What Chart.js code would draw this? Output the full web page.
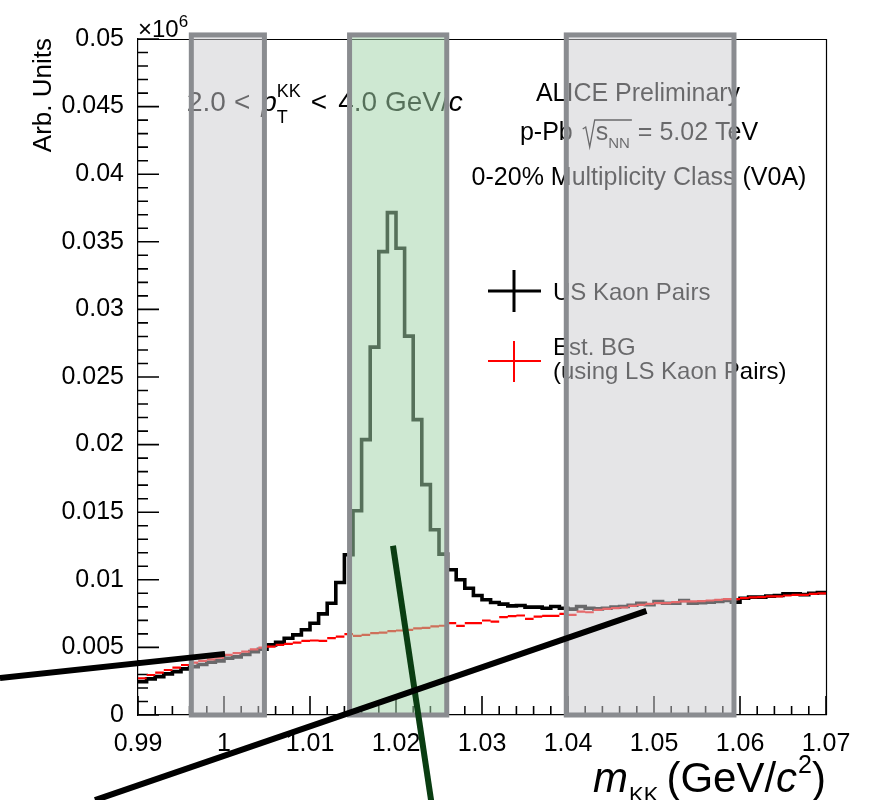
<!DOCTYPE html>
<html>
<head>
<meta charset="utf-8">
<title>m_KK invariant mass distribution</title>
<script src="https://cdn.jsdelivr.net/npm/chart.js@4.4.1/dist/chart.umd.min.js"></script>
<style>
html,body{margin:0;padding:0;background:#ffffff;}
#box{position:relative;width:875px;height:800px;overflow:hidden;}
canvas{display:block;}
</style>
</head>
<body>
<div id="box"><canvas id="chart" width="875" height="800"></canvas></div>
<script>
// ---------------- data (y in units of 10^6) ----------------
const binEdges = [
  0.990,0.991,0.992,0.993,0.994,0.995,0.996,0.997,0.998,0.999,
  1.000,1.001,1.002,1.003,1.004,1.005,1.006,1.007,1.008,1.009,
  1.010,1.011,1.012,1.013,1.014,1.015,1.016,1.017,1.018,1.019,
  1.020,1.021,1.022,1.023,1.024,1.025,1.026,1.027,1.028,1.029,
  1.030,1.031,1.032,1.033,1.034,1.035,1.036,1.037,1.038,1.039,
  1.040,1.041,1.042,1.043,1.044,1.045,1.046,1.047,1.048,1.049,
  1.050,1.051,1.052,1.053,1.054,1.055,1.056,1.057,1.058,1.059,
  1.060,1.061,1.062,1.063,1.064,1.065,1.066,1.067,1.068,1.069,
  1.070
];
const usKaonPairs = [
  0.00247,0.00267,0.00284,0.00304,0.00321,0.00341,0.00358,0.00374,0.00390,0.00400,
  0.00420,0.00430,0.00448,0.00469,0.00486,0.00519,0.00538,0.00568,0.00593,0.00630,
  0.00679,0.00748,0.00827,0.00980,0.01185,0.01511,0.02037,0.02721,0.03427,0.03716,
  0.03452,0.02802,0.02185,0.01704,0.01370,0.01190,0.01074,0.01000,0.00938,0.00884,
  0.00852,0.00832,0.00820,0.00807,0.00810,0.00798,0.00798,0.00790,0.00802,0.00790,
  0.00783,0.00802,0.00790,0.00785,0.00790,0.00798,0.00802,0.00812,0.00827,0.00815,
  0.00840,0.00827,0.00827,0.00847,0.00827,0.00830,0.00835,0.00840,0.00847,0.00835,
  0.00864,0.00872,0.00872,0.00879,0.00884,0.00896,0.00896,0.00890,0.00900,0.00905
];
const estBG = [
  0.00272,0.00296,0.00314,0.00333,0.00350,0.00370,0.00388,0.00400,0.00412,0.00425,
  0.00444,0.00457,0.00469,0.00486,0.00499,0.00506,0.00519,0.00526,0.00536,0.00548,
  0.00551,0.00548,0.00568,0.00580,0.00598,0.00585,0.00593,0.00605,0.00610,0.00620,
  0.00625,0.00630,0.00640,0.00645,0.00655,0.00660,0.00679,0.00659,0.00679,0.00679,
  0.00699,0.00690,0.00724,0.00731,0.00736,0.00711,0.00728,0.00733,0.00733,0.00748,
  0.00741,0.00765,0.00760,0.00778,0.00785,0.00790,0.00795,0.00807,0.00815,0.00822,
  0.00827,0.00827,0.00835,0.00840,0.00840,0.00843,0.00847,0.00852,0.00857,0.00857,
  0.00864,0.00870,0.00872,0.00877,0.00877,0.00884,0.00889,0.00889,0.00896,0.00900
];
const xTickValues = [0.99,1.00,1.01,1.02,1.03,1.04,1.05,1.06,1.07];
const xTickLabels = ["0.99","1","1.01","1.02","1.03","1.04","1.05","1.06","1.07"];
const yTickValues = [0,0.005,0.01,0.015,0.02,0.025,0.03,0.035,0.04,0.045,0.05];
const yTickLabels = ["0","0.005","0.01","0.015","0.02","0.025","0.03","0.035","0.04","0.045","0.05"];
const sidebandLeft  = [0.9962, 1.0047];
const peakWindow    = [1.0146, 1.0259];
const sidebandRight = [1.0398, 1.0593];
const bandTop = 0.0503;
// hand-drawn pointer strokes (data coordinates of their ends)
const pointerA = [[0.97395, 0.00274], [1.00012, 0.00452]];
const pointerB = [[0.98500, -0.00630], [1.04912, 0.00770]];
const pointerC = [[1.01965, 0.01252], [1.02410, -0.00640]];
const legendLabels = ["US Kaon Pairs", "Est. BG", "(using LS Kaon Pairs)"];
const infoLines = ["ALICE Preliminary", "0-20% Multiplicity Class (V0A)"];

// ---------------- helpers ----------------
const FAM = '"Liberation Sans", Arial, Helvetica, sans-serif';
function fnt(size, style) { return (style ? style + ' ' : '') + size + 'px ' + FAM; }

function histLine(edges, vals) {
  const p = vals.map((v, i) => ({x: edges[i], y: v}));
  p.push({x: edges[vals.length], y: vals[vals.length - 1]});
  return p;
}
function binSegments(edges, vals) {
  const p = [];
  vals.forEach((v, i) => {
    p.push({x: edges[i], y: v});
    p.push({x: edges[i + 1], y: v});
    p.push({x: edges[i + 1], y: null});
  });
  return p;
}
function pts(p) { return p.map(q => ({x: q[0], y: q[1]})); }

// draw a sequence of text runs (rich text)
function drawRuns(ctx, runs, x0, y0, align) {
  let x = 0, hold = 0;
  const place = [];
  runs.forEach(r => {
    ctx.font = fnt(r.size, r.style);
    const w = ctx.measureText(r.t).width;
    x += (r.dx || 0);
    place.push(x);
    if (r.hold) { hold = Math.max(hold, w); }
    else { x += Math.max(w, hold); hold = 0; }
  });
  const total = x;
  let sx = x0;
  if (align === 'right') sx = x0 - total;
  else if (align === 'center') sx = x0 - total / 2;
  ctx.textAlign = 'left';
  ctx.textBaseline = 'alphabetic';
  runs.forEach((r, i) => {
    ctx.font = fnt(r.size, r.style);
    ctx.fillStyle = r.color || '#000';
    ctx.fillText(r.t, sx + place[i], y0 + (r.dy || 0));
  });
  return {start: sx, width: total};
}

function drawTextsAndTicks(chart) {
  const ctx = chart.ctx;
  const ca = chart.chartArea;
  const xs = chart.scales.x, ys = chart.scales.y;
  ctx.save();
  // frame (top + right)
  ctx.strokeStyle = '#000000';
  ctx.lineWidth = 1.2;
  ctx.beginPath();
  ctx.moveTo(ca.left, Math.round(ca.top) + 0.5);
  ctx.lineTo(Math.round(ca.right) + 0.5, Math.round(ca.top) + 0.5);
  ctx.lineTo(Math.round(ca.right) + 0.5, ca.bottom);
  ctx.stroke();
  // inward ticks, y axis: major each 0.005, minor each 0.001
  ctx.strokeStyle = '#000000';
  ctx.lineWidth = 1.6;
  ctx.lineCap = 'butt';
  ctx.beginPath();
  for (let k = 0; k <= 50; k++) {
    const py = ys.getPixelForValue(k * 0.001);
    const len = (k % 5 === 0) ? 21 : 10;
    ctx.moveTo(ca.left, py);
    ctx.lineTo(ca.left + len, py);
  }
  ctx.stroke();
  // x axis: major each 0.01, minor each 0.002
  ctx.beginPath();
  for (let k = 0; k <= 40; k++) {
    const px = xs.getPixelForValue(0.99 + k * 0.002);
    const len = (k % 5 === 0) ? 19 : 9;
    ctx.moveTo(px, ca.bottom);
    ctx.lineTo(px, ca.bottom - len);
  }
  ctx.stroke();

  // x10^6
  drawRuns(ctx, [{t: '\u00d710', size: 24}, {t: '6', size: 17, dy: -10}], ca.left, 37, 'left');

  // y title
  ctx.save();
  ctx.translate(51, 38);
  ctx.rotate(-Math.PI / 2);
  ctx.font = fnt(26);
  ctx.fillStyle = '#000';
  ctx.textAlign = 'right';
  ctx.textBaseline = 'alphabetic';
  ctx.fillText('Arb. Units', 0, 0);
  ctx.restore();

  // x title
  drawRuns(ctx, [
    {t: 'm', size: 42, style: 'italic'},
    {t: 'KK', size: 22, dy: 10, dx: 1},
    {t: '(GeV/', size: 42, dx: 8},
    {t: 'c', size: 42, style: 'italic'},
    {t: '2', size: 25, dy: -19, dx: 1},
    {t: ')', size: 42}
  ], ca.right, 792, 'right');

  // pT range
  drawRuns(ctx, [
    {t: '2.0', size: 28},
    {t: '<', size: 28, dx: 8},
    {t: 'p', size: 28, style: 'italic', dx: 11},
    {t: 'KK', size: 18, dy: -14, hold: true, dx: 0},
    {t: 'T', size: 18, dy: 12},
    {t: '<', size: 28, dx: 10},
    {t: '4.0 GeV/', size: 28, dx: 11},
    {t: 'c', size: 28, style: 'italic'}
  ], 187, 111, 'left');

  // info texts
  drawRuns(ctx, [{t: infoLines[0], size: 25}], 638, 101, 'center');
  {
    ctx.font = fnt(25);
    const wA = ctx.measureText('p-Pb').width;
    const wS = ctx.measureText('s').width;
    const wE = ctx.measureText('= 5.02 TeV').width;
    ctx.font = fnt(15);
    const wN = ctx.measureText('NN').width;
    const gap1 = 10, rad = 13, gap2 = 8;
    const total = wA + gap1 + rad + wS + wN + gap2 + wE;
    let x = 639 - total / 2;
    const by = 140;
    ctx.fillStyle = '#000';
    ctx.textAlign = 'left'; ctx.textBaseline = 'alphabetic';
    ctx.font = fnt(25); ctx.fillText('p-Pb', x, by);
    x += wA + gap1;
    ctx.strokeStyle = '#000'; ctx.lineWidth = 1.3;
    ctx.beginPath();
    ctx.moveTo(x, by - 11); ctx.lineTo(x + 3, by - 13);
    ctx.lineTo(x + 7, by + 7);
    ctx.lineTo(x + 12, by - 20);
    ctx.lineTo(x + rad + wS + wN + 2, by - 20);
    ctx.stroke();
    x += rad;
    ctx.font = fnt(25); ctx.fillText('s', x, by);
    x += wS;
    ctx.font = fnt(15); ctx.fillText('NN', x, by + 8);
    x += wN + gap2;
    ctx.font = fnt(25); ctx.fillText('= 5.02 TeV', x, by);
  }
  drawRuns(ctx, [{t: infoLines[1], size: 25}], 639, 185, 'center');

  // legend
  ctx.strokeStyle = '#000'; ctx.lineWidth = 3;
  ctx.beginPath();
  ctx.moveTo(488, 291); ctx.lineTo(541, 291);
  ctx.moveTo(514, 270); ctx.lineTo(514, 312);
  ctx.stroke();
  ctx.strokeStyle = '#ff0000'; ctx.lineWidth = 2;
  ctx.beginPath();
  ctx.moveTo(488, 361); ctx.lineTo(541, 361);
  ctx.moveTo(514, 341); ctx.lineTo(514, 382);
  ctx.stroke();
  drawRuns(ctx, [{t: legendLabels[0], size: 24}], 553, 300, 'left');
  drawRuns(ctx, [{t: legendLabels[1], size: 24}], 553, 355, 'left');
  drawRuns(ctx, [{t: legendLabels[2], size: 24}], 553, 379, 'left');
  ctx.restore();
}

function drawBands(chart) {
  const ctx = chart.ctx;
  const xs = chart.scales.x, ys = chart.scales.y;
  const bands = [
    {r: sidebandLeft,  fill: 'rgba(204,205,208,0.515)'},
    {r: peakWindow,    fill: 'rgba(162,211,170,0.53)'},
    {r: sidebandRight, fill: 'rgba(204,205,208,0.515)'}
  ];
  ctx.save();
  bands.forEach(b => {
    const x0 = xs.getPixelForValue(b.r[0]);
    const x1 = xs.getPixelForValue(b.r[1]);
    const y0 = ys.getPixelForValue(bandTop);
    const y1 = ys.getPixelForValue(0);
    ctx.fillStyle = b.fill;
    ctx.fillRect(x0, y0, x1 - x0, y1 - y0);
    ctx.strokeStyle = '#8a8c90';
    ctx.lineWidth = 5;
    ctx.strokeRect(x0, y0, x1 - x0, y1 - y0);
  });
  ctx.restore();
}

const rootStyle = {
  id: 'rootStyle',
  beforeDatasetsDraw(chart) {
    chart.$bandsDone = false;
    drawTextsAndTicks(chart);
  },
  beforeDatasetDraw(chart, args) {
    const ds = chart.data.datasets[args.index];
    if (ds.pointer && !chart.$bandsDone) {
      drawBands(chart);
      chart.$bandsDone = true;
    }
  },
  afterDatasetsDraw(chart) {
    if (!chart.$bandsDone) { drawBands(chart); chart.$bandsDone = true; }
  }
};

new Chart(document.getElementById('chart'), {
  type: 'line',
  data: {
    datasets: [
      {label: legendLabels[0], data: histLine(binEdges, usKaonPairs), borderColor: '#000000',
       borderWidth: 3.6, stepped: 'before', pointRadius: 0, fill: false, order: 3},
      {label: legendLabels[1], data: binSegments(binEdges, estBG), borderColor: '#ff0000',
       borderWidth: 2.2, pointRadius: 0, fill: false, spanGaps: false, order: 2},
      {label: 'pointerA', data: pts(pointerA), borderColor: '#000000', borderWidth: 6,
       pointRadius: 0, clip: false, order: 1, pointer: true, borderCapStyle: 'butt'},
      {label: 'pointerB', data: pts(pointerB), borderColor: '#000000', borderWidth: 6,
       pointRadius: 0, clip: false, order: 1, pointer: true, borderCapStyle: 'butt'},
      {label: 'pointerC', data: pts(pointerC), borderColor: '#0a3d12', borderWidth: 6,
       pointRadius: 0, clip: false, order: 1, pointer: true, borderCapStyle: 'butt'}
    ]
  },
  options: {
    responsive: false,
    animation: false,
    events: [],
    layout: {padding: {top: 39, right: 49, left: 0, bottom: 0}},
    plugins: {legend: {display: false}, tooltip: {enabled: false}, title: {display: false}},
    scales: {
      x: {
        type: 'linear', min: 0.99, max: 1.07,
        afterFit: s => { s.height = 85; },
        afterBuildTicks: s => { s.ticks = xTickValues.map(v => ({value: v})); },
        ticks: {callback: (v, i) => xTickLabels[i], font: {family: FAM, size: 25}, color: '#000',
                padding: 6, maxRotation: 0, autoSkip: false},
        grid: {display: false},
        border: {display: true, color: '#000', width: 1.2}
      },
      y: {
        type: 'linear', min: 0, max: 0.05,
        afterFit: s => { s.width = 138; },
        afterBuildTicks: s => { s.ticks = yTickValues.map(v => ({value: v})); },
        ticks: {callback: (v, i) => yTickLabels[i], font: {family: FAM, size: 25}, color: '#000',
                padding: 6, autoSkip: false},
        grid: {display: false},
        border: {display: true, color: '#000', width: 1.2}
      }
    }
  },
  plugins: [rootStyle]
});
</script>
</body>
</html>
